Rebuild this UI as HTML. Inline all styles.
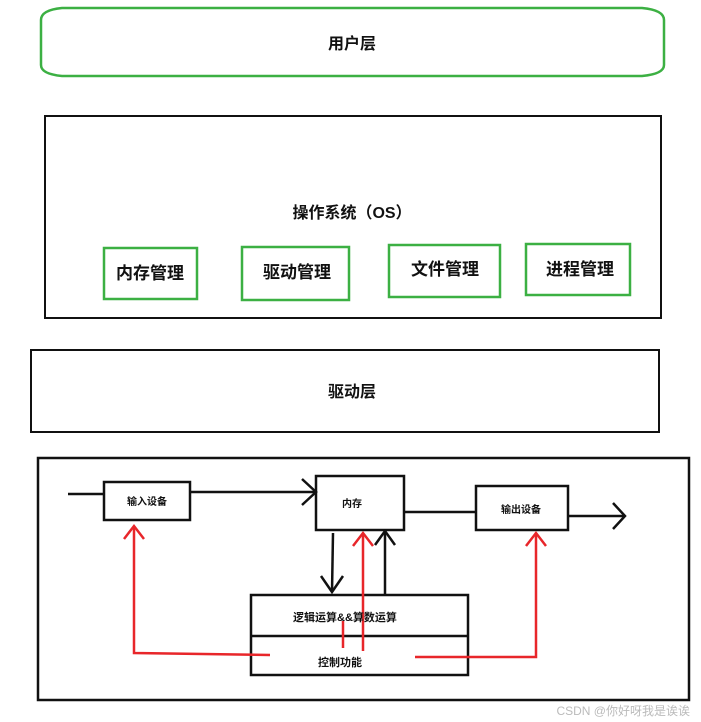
<!DOCTYPE html>
<html><head><meta charset="utf-8"><style>
html,body{margin:0;padding:0;background:#fff;}
svg{display:block;}
text{font-family:"Liberation Sans","Noto Sans CJK SC",sans-serif;font-weight:bold;fill:#111;}
</style></head><body>
<svg width="701" height="722" viewBox="0 0 701 722" xmlns="http://www.w3.org/2000/svg">
<rect x="0" y="0" width="701" height="722" fill="#fff"/>
<!-- user layer -->
<path d="M62,8 L642,8 Q664,10 664,20 L664,65 Q664,74 642,76 L62,76 Q41,74 41,65 L41,20 Q41,10 62,8 Z" fill="none" stroke="#3cb043" stroke-width="2.5"/>
<text x="352" y="49" font-size="16" text-anchor="middle">用户层</text>
<!-- OS -->
<rect x="45" y="116" width="616" height="202" fill="none" stroke="#111" stroke-width="2"/>
<text x="352" y="218" font-size="16" text-anchor="middle">操作系统（OS）</text>
<g fill="none" stroke="#3cb043" stroke-width="2.5">
<rect x="104" y="248" width="93" height="51"/>
<rect x="242" y="247" width="107" height="53"/>
<rect x="389" y="245" width="111" height="52"/>
<rect x="526" y="244" width="104" height="51"/>
</g>
<text x="150" y="279" font-size="17" text-anchor="middle">内存管理</text>
<text x="297" y="278" font-size="17" text-anchor="middle">驱动管理</text>
<text x="445" y="275" font-size="17" text-anchor="middle">文件管理</text>
<text x="580" y="275" font-size="17" text-anchor="middle">进程管理</text>
<!-- driver -->
<rect x="31" y="350" width="628" height="82" fill="none" stroke="#111" stroke-width="2"/>
<text x="352" y="397" font-size="16" text-anchor="middle">驱动层</text>
<!-- hardware -->
<rect x="38" y="458" width="651" height="242" fill="none" stroke="#111" stroke-width="2.5"/>
<g fill="none" stroke="#111" stroke-width="2.5">
<rect x="104" y="482" width="86" height="38"/>
<rect x="316" y="476" width="88" height="54"/>
<rect x="476" y="486" width="92" height="44"/>
<rect x="251" y="595" width="217" height="80"/>
<line x1="251" y1="636" x2="468" y2="636"/>
<line x1="68" y1="494" x2="104" y2="494"/>
<line x1="190" y1="492" x2="316" y2="492"/>
<polyline points="302,479 316,492 302,505"/>
<line x1="404" y1="512" x2="476" y2="512"/>
<line x1="568" y1="516" x2="625" y2="516"/>
<polyline points="613,503 625,516 613,529"/>
<line x1="333" y1="533" x2="332" y2="592"/>
<polyline points="321,576 332,592 343,576"/>
<line x1="385" y1="595" x2="385" y2="531"/>
<polyline points="375,545 385,531 395,545"/>
</g>
<g fill="none" stroke="#e8262a" stroke-width="2.5">
<polyline points="270,655 134,653 134,526"/>
<polyline points="124,539 134,526 144,539"/>
<line x1="363" y1="651" x2="363" y2="533"/>
<polyline points="353,546 363,533 373,546"/>
<line x1="343" y1="621" x2="343" y2="648"/>
<polyline points="415,657 536,657 536,533"/>
<polyline points="526,546 536,533 546,546"/>
</g>
<text x="147" y="505" font-size="10" text-anchor="middle">输入设备</text>
<text x="352" y="507" font-size="10" text-anchor="middle">内存</text>
<text x="521" y="513" font-size="10" text-anchor="middle">输出设备</text>
<text x="345" y="621" font-size="11" text-anchor="middle">逻辑运算&amp;&amp;算数运算</text>
<text x="340" y="666" font-size="11" text-anchor="middle">控制功能</text>
<text x="690" y="715" font-size="12" text-anchor="end" style="font-weight:normal;fill:#bbb">CSDN @你好呀我是诶诶</text>
</svg>
</body></html>
